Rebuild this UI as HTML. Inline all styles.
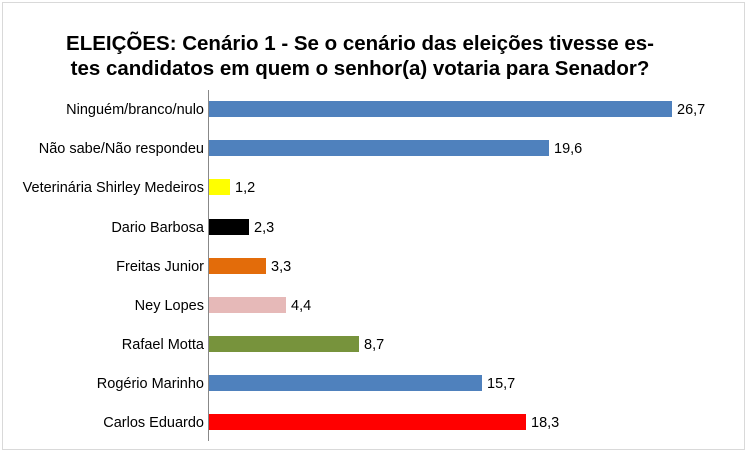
<!DOCTYPE html>
<html><head><meta charset="utf-8"><style>
body{margin:0;background:#fff;}
svg{display:block;font-family:"Liberation Sans",sans-serif;}
</style></head><body>
<svg width="750" height="453" xmlns="http://www.w3.org/2000/svg">
<rect x="0" y="0" width="750" height="453" fill="#fff"/>
<rect x="2.5" y="2.5" width="742" height="447" fill="none" stroke="#d9d9d9" stroke-width="1"/>
<text x="360" y="50" text-anchor="middle" font-size="20.5" font-weight="bold" fill="#000">ELEIÇÕES: Cenário 1 - Se o cenário das eleições tivesse es-</text>
<text x="360" y="75" text-anchor="middle" font-size="20.5" font-weight="bold" fill="#000">tes candidatos em quem o senhor(a) votaria para Senador?</text>
<line x1="208.5" y1="90" x2="208.5" y2="441" stroke="#888" stroke-width="1"/>
<g font-size="14.5" fill="#000">
<rect x="209" y="101" width="463" height="16" fill="#4f81bd"/><text x="204" y="114" text-anchor="end">Ninguém/branco/nulo</text><text x="677" y="114">26,7</text>
<rect x="209" y="140" width="340" height="16" fill="#4f81bd"/><text x="204" y="153" text-anchor="end">Não sabe/Não respondeu</text><text x="554" y="153">19,6</text>
<rect x="209" y="179" width="21" height="16" fill="#ffff00"/><text x="204" y="192" text-anchor="end">Veterinária Shirley Medeiros</text><text x="235" y="192">1,2</text>
<rect x="209" y="219" width="40" height="16" fill="#000"/><text x="204" y="232" text-anchor="end">Dario Barbosa</text><text x="254" y="232">2,3</text>
<rect x="209" y="258" width="57" height="16" fill="#e36c0a"/><text x="204" y="271" text-anchor="end">Freitas Junior</text><text x="271" y="271">3,3</text>
<rect x="209" y="297" width="77" height="16" fill="#e6b9b8"/><text x="204" y="310" text-anchor="end">Ney Lopes</text><text x="291" y="310">4,4</text>
<rect x="209" y="336" width="150" height="16" fill="#77933c"/><text x="204" y="349" text-anchor="end">Rafael Motta</text><text x="364" y="349">8,7</text>
<rect x="209" y="375" width="273" height="16" fill="#4f81bd"/><text x="204" y="388" text-anchor="end">Rogério Marinho</text><text x="487" y="388">15,7</text>
<rect x="209" y="414" width="317" height="16" fill="#ff0000"/><text x="204" y="427" text-anchor="end">Carlos Eduardo</text><text x="531" y="427">18,3</text>
</g>
</svg>
</body></html>
